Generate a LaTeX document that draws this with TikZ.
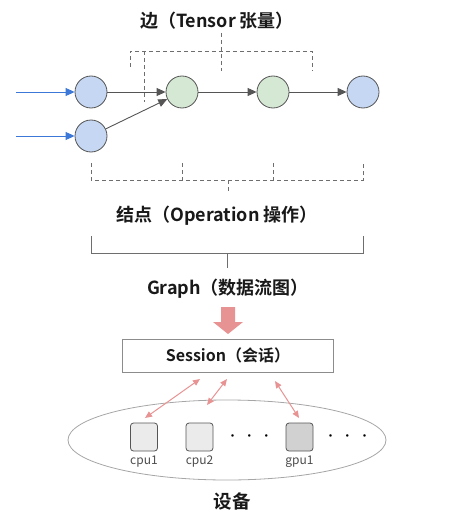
\documentclass[tikz,border=0pt]{standalone}
\usepackage{fontspec}
\setmainfont{Noto Sans CJK SC}[BoldFont={* Bold}]
\usepackage{tikz}
\usetikzlibrary{arrows.meta, positioning, shapes.geometric}
\definecolor{opblue}{RGB}{197, 215, 242}
\definecolor{opgrn}{RGB}{213, 232, 212}
\definecolor{edge}{RGB}{85, 85, 85}
\definecolor{inblue}{RGB}{60, 120, 216}
\definecolor{pnk}{RGB}{232, 147, 147}
\definecolor{brk}{RGB}{110, 110, 110}

\begin{document}
\begin{tikzpicture}[
    x=1pt, y=-1pt,
    >={Triangle[length=9pt, width=8pt]},
    op/.style={circle, draw=edge, line width=0.8pt, fill=#1, minimum size=32pt, inner sep=0pt},
    lbl/.style={font=\fontsize{18}{21}\selectfont\bfseries, text=black!90},
    dev/.style={rectangle, rounded corners=3pt, draw=edge, line width=0.8pt, fill=#1,
      minimum width=27pt, minimum height=28pt, inner sep=0pt},
    devname/.style={font=\fontsize{12}{14}\selectfont, text=black!70},
    brace/.style={brk, dashed, dash pattern=on 4pt off 3pt, line width=0.7pt},
    pink/.style={pnk, line width=1pt, {Triangle[length=7pt, width=6pt]}-{Triangle[length=7pt, width=6pt]}}
  ]
  \useasboundingbox (0,0) rectangle (459,519);
  % graph nodes
  \node[op=opblue] (a1) at (91,92) {};
  \node[op=opblue] (a2) at (91,136) {};
  \node[op=opgrn] (b1) at (182,92) {};
  \node[op=opgrn] (b2) at (273,92) {};
  \node[op=opblue] (c1) at (363,92) {};
  \coordinate (in1) at (16,92);
  \coordinate (in2) at (16,136);
  \draw[->, inblue, line width=0.9pt] (in1) -- (a1);
  \draw[->, inblue, line width=0.9pt] (in2) -- (a2);
  \foreach \a/\b in {a1/b1, a2/b1, b1/b2, b2/c1} {
    \draw[->, edge, line width=0.9pt] (\a) -- (\b);
  }
  % tensor bracket
  \node[lbl] (tensor) at (217,21) {边（Tensor 张量）};
  \draw[brace] (130,67) -- (130,51) -- (312,51) -- (312,71);
  \draw[brace] (144,51) -- (144,102);
  \draw[brace] (221,33) -- (221,71);
  % operation bracket
  \draw[brace] (a2.south |- 0,163) -- (91,180) -- (363,180) -- (363,163);
  \foreach \n in {b1, b2} {
    \draw[brace] (\n.south |- 0,163) -- (\n.south |- 0,180);
  }
  \draw[brace] (228,180) -- (228,193);
  \node[lbl] (oper) at (217,216) {结点（Operation 操作）};
  % graph bracket
  \draw[brk, line width=0.8pt] (91,236) -- (91,253) -- (363,253) -- (363,236);
  \draw[brk, line width=0.8pt] (227,253) -- (227,268);
  \node[lbl] (graph) at (228,289) {Graph（数据流图）};
  % block arrow
  \fill[pnk] (221,307) -- (235,307) -- (235,322) -- (243,322) -- (228,334)
    -- (213,322) -- (221,322) -- cycle;
  % session
  \node[rectangle, draw=black!45, line width=0.8pt, minimum width=211pt, minimum height=33pt,
    font=\fontsize{16}{18}\selectfont\bfseries, text=black!90] (sess) at (228,355.5) {Session（会话）};
  % devices
  \node[ellipse, draw=black!35, line width=0.8pt, minimum width=318pt, minimum height=80pt] (pool) at (227,440) {};
  \node[dev=black!8] (cpu1) at (144,437) {};
  \node[dev=black!8] (cpu2) at (199.5,437) {};
  \node[dev=black!18] (gpu1) at (299.5,437) {};
  \node[devname, below=1pt of cpu1] (l1) {cpu1};
  \node[devname, below=1pt of cpu2] (l2) {cpu2};
  \node[devname, below=1pt of gpu1] (l3) {gpu1};
  \node[font=\fontsize{12}{14}\selectfont] (dots1) at (249.5,438) {·\hspace{5pt}·\hspace{5pt}·};
  \node[font=\fontsize{12}{14}\selectfont] (dots2) at (347.5,438) {·\hspace{5pt}·\hspace{5pt}·};
  \coordinate (s1) at (200,379);
  \coordinate (s2) at (227,379);
  \coordinate (s3) at (275,381);
  \coordinate (d1) at (145,418);
  \coordinate (d2) at (207,405);
  \coordinate (d3) at (299,418);
  \foreach \a/\b in {s1/d1, s2/d2, s3/d3} {
    \draw[pink] (\a) -- (\b);
  }
  \node[font=\fontsize{18.5}{21}\selectfont\bfseries, text=black!90] (devs) at (232,501) {设备};
\end{tikzpicture}
\end{document}
